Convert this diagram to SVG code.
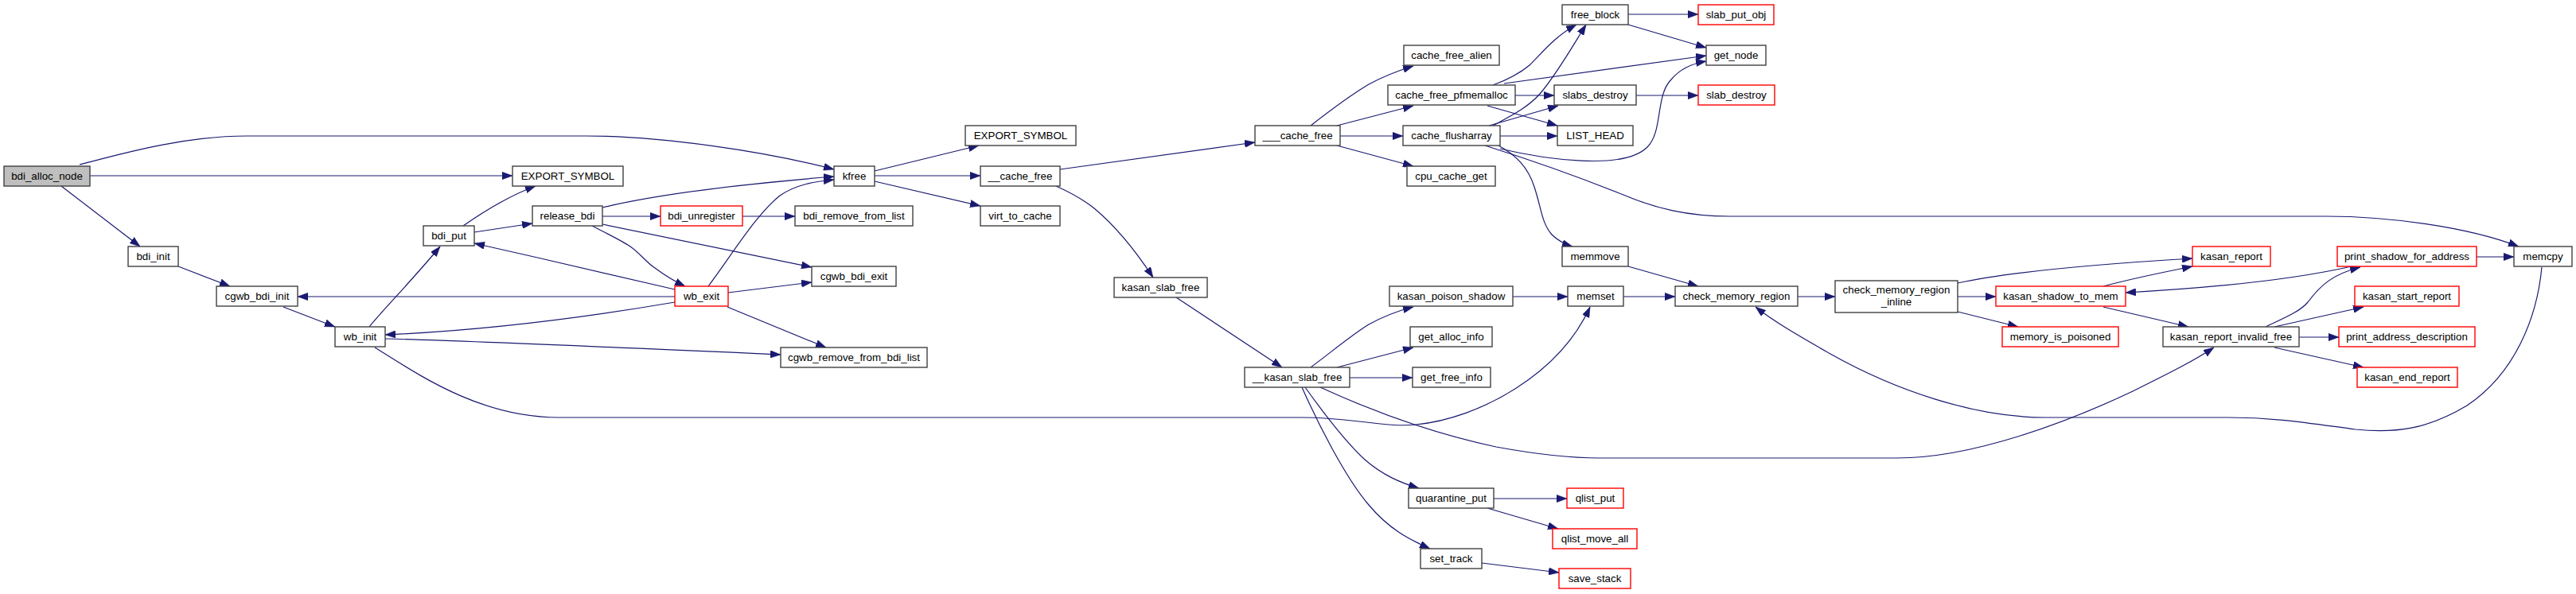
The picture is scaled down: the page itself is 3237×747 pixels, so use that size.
<svg xmlns="http://www.w3.org/2000/svg" width="3237" height="747" viewBox="0 0 3237 747">
<style>
.n rect{fill:#fff;stroke:#404040;stroke-width:1.4}
.n.r rect{stroke:#ff0000}
.n.root rect{fill:#bfbfbf}
text{font-family:"Liberation Sans",Arial,Helvetica,sans-serif;font-size:13.33px;text-anchor:middle;fill:#000}
#edges path{fill:none;stroke:#191970;stroke-width:1.2;marker-end:url(#ah)}
</style>
<defs>
<marker id="ah" markerUnits="userSpaceOnUse" viewBox="0 0 13 9.4" refX="13" refY="4.7" markerWidth="13" markerHeight="9.4" orient="auto">
<path d="M0,0 L13,4.7 L0,9.4 z" fill="#191970" stroke="#191970" stroke-width="0.5"/>
</marker>
</defs>
<rect width="3237" height="747" fill="#fff"/>
<g id="edges">
<path d="M100,207 C150,194 230,171 310,171 L737,171 C830,171 960,190 1048,213"/>
<path d="M113,221 L644,221"/>
<path d="M77,234 L176,310"/>
<path d="M224,335 L289,360"/>
<path d="M356,386 L421,411"/>
<path d="M464,411 C480,391 520,350 553,310"/>
<path d="M471,437 C520,467 600,525 702,525 L1635,525 C1700,525 1740,538 1779,534 C1860,526 1960,470 1998,386"/>
<path d="M582,284 C605,268 640,246 673,234"/>
<path d="M596,292 L669,281"/>
<path d="M757,261 C830,243 950,230 1048,222"/>
<path d="M757,272 L830,272"/>
<path d="M757,282 L1020,336"/>
<path d="M744,284 C765,295 780,302 792,310 C805,319 812,330 823,337 C835,346 848,354 861,360"/>
<path d="M933,272 L999,272"/>
<path d="M890,360 C920,320 950,270 980,246 C1000,232 1025,228 1048,226"/>
<path d="M848,364 C760,343 680,325 596,306"/>
<path d="M915,368 L1020,355"/>
<path d="M848,373 L374,373"/>
<path d="M848,380 C760,395 620,415 484,421"/>
<path d="M484,426 C600,429 800,438 981,446"/>
<path d="M914,386 L1038,437"/>
<path d="M1099,215 L1230,183"/>
<path d="M1099,221 L1232,221"/>
<path d="M1099,228 L1232,259"/>
<path d="M1332,213 L1577,179"/>
<path d="M1327,234 C1345,242 1360,250 1375,262 C1405,287 1430,320 1449,349"/>
<path d="M1478,374 L1611,462"/>
<path d="M1647,158 C1670,140 1700,118 1720,106 C1740,95 1760,88 1776,83"/>
<path d="M1680,158 L1776,133"/>
<path d="M1684,171 L1763,171"/>
<path d="M1680,183 L1776,209"/>
<path d="M1876,107 C1895,100 1910,92 1922,82 C1940,64 1955,45 1981,31"/>
<path d="M1890,105 L2144,70"/>
<path d="M1904,120 L1953,120"/>
<path d="M1869,133 L1957,158"/>
<path d="M1876,158 C1900,145 1920,135 1935,118 C1955,95 1975,60 1993,31"/>
<path d="M1871,158 L1958,133"/>
<path d="M1885,171 L1957,171"/>
<path d="M1885,187 C1940,200 2040,215 2070,185 C2090,165 2080,120 2100,100 C2110,88 2125,80 2144,77"/>
<path d="M1883,183 C1905,195 1920,210 1928,235 C1937,262 1937,280 1950,295 C1958,303 1966,307 1976,310"/>
<path d="M1866,183 C1920,200 1990,225 2040,245 C2080,262 2120,272 2174,272 L2923,272 C3000,272 3100,285 3165,310"/>
<path d="M2046,18 L2134,18"/>
<path d="M2046,31 L2144,60"/>
<path d="M2056,120 L2134,120"/>
<path d="M2046,335 L2134,360"/>
<path d="M2040,373 L2105,373"/>
<path d="M1901,373 L1970,373"/>
<path d="M1647,462 C1670,445 1700,420 1720,408 C1740,397 1760,390 1776,386"/>
<path d="M1680,462 L1776,437"/>
<path d="M1696,475 L1775,475"/>
<path d="M1640,487 C1660,515 1690,555 1715,578 C1738,598 1760,607 1783,614"/>
<path d="M1636,487 C1655,530 1690,600 1720,635 C1745,665 1770,678 1797,690"/>
<path d="M1659,487 C1720,515 1800,545 1880,562 C1940,573 1980,576 2010,576 L2384,576 C2480,576 2600,530 2680,492 C2720,472 2755,455 2782,437"/>
<path d="M1877,627 L1969,627"/>
<path d="M1869,639 L1958,665"/>
<path d="M1862,708 L1959,720"/>
<path d="M2259,373 L2306,373"/>
<path d="M2460,373 L2508,373"/>
<path d="M2460,392 L2536,411"/>
<path d="M2460,356 C2520,343 2620,333 2755,325"/>
<path d="M2643,360 C2680,350 2720,342 2755,335"/>
<path d="M2643,386 L2750,411"/>
<path d="M2847,411 C2870,400 2890,392 2900,380 C2915,360 2930,345 2966,336"/>
<path d="M2955,335 C2880,352 2780,362 2671,368"/>
<path d="M3112,323 L3159,323"/>
<path d="M2858,411 L2970,386"/>
<path d="M2889,424 L2939,424"/>
<path d="M2858,437 L2970,462"/>
<path d="M3194,336 C3188,400 3160,470 3100,510 C3050,540 3010,545 2960,540 C2900,532 2860,525 2800,525 L2570,525 C2480,525 2380,490 2300,445 C2260,422 2230,405 2206,386"/>
</g>
<g id="node-bdi_alloc_node" class="n root"><rect x="5" y="209" width="108" height="25"/><text x="59" y="226">bdi_alloc_node</text></g>
<g id="node-bdi_init" class="n"><rect x="161" y="310" width="63" height="25"/><text x="192.5" y="327">bdi_init</text></g>
<g id="node-cgwb_bdi_init" class="n"><rect x="272" y="360" width="102" height="25"/><text x="323" y="377">cgwb_bdi_init</text></g>
<g id="node-wb_init" class="n"><rect x="421" y="411" width="63" height="25"/><text x="452.5" y="428">wb_init</text></g>
<g id="node-bdi_put" class="n"><rect x="532" y="284" width="64" height="25"/><text x="564" y="301">bdi_put</text></g>
<g id="node-EXPORT_SYMBOL_1" class="n"><rect x="644" y="209" width="139" height="25"/><text x="713.5" y="226">EXPORT_SYMBOL</text></g>
<g id="node-release_bdi" class="n"><rect x="669" y="259" width="88" height="25"/><text x="713" y="276">release_bdi</text></g>
<g id="node-bdi_unregister" class="n r"><rect x="830" y="259" width="103" height="25"/><text x="881.5" y="276">bdi_unregister</text></g>
<g id="node-wb_exit" class="n r"><rect x="848" y="360" width="67" height="25"/><text x="881.5" y="377">wb_exit</text></g>
<g id="node-kfree" class="n"><rect x="1048" y="209" width="51" height="25"/><text x="1073.5" y="226">kfree</text></g>
<g id="node-bdi_remove_from_list" class="n"><rect x="999" y="259" width="148" height="25"/><text x="1073" y="276">bdi_remove_from_list</text></g>
<g id="node-cgwb_bdi_exit" class="n"><rect x="1020" y="335" width="106" height="25"/><text x="1073" y="352">cgwb_bdi_exit</text></g>
<g id="node-cgwb_remove_from_bdi_list" class="n"><rect x="981" y="437" width="184" height="25"/><text x="1073" y="454">cgwb_remove_from_bdi_list</text></g>
<g id="node-EXPORT_SYMBOL_2" class="n"><rect x="1213" y="158" width="139" height="25"/><text x="1282.5" y="175">EXPORT_SYMBOL</text></g>
<g id="node-__cache_free" class="n"><rect x="1232" y="209" width="100" height="25"/><text x="1282" y="226">__cache_free</text></g>
<g id="node-virt_to_cache" class="n"><rect x="1232" y="259" width="100" height="25"/><text x="1282" y="276">virt_to_cache</text></g>
<g id="node-kasan_slab_free" class="n"><rect x="1400" y="349" width="117" height="25"/><text x="1458.5" y="366">kasan_slab_free</text></g>
<g id="node-___cache_free" class="n"><rect x="1577" y="158" width="107" height="25"/><text x="1630.5" y="175">___cache_free</text></g>
<g id="node-__kasan_slab_free" class="n"><rect x="1564" y="462" width="132" height="25"/><text x="1630" y="479">__kasan_slab_free</text></g>
<g id="node-cache_free_alien" class="n"><rect x="1764" y="57" width="120" height="25"/><text x="1824" y="74">cache_free_alien</text></g>
<g id="node-cache_free_pfmemalloc" class="n"><rect x="1744" y="107" width="160" height="25"/><text x="1824" y="124">cache_free_pfmemalloc</text></g>
<g id="node-cache_flusharray" class="n"><rect x="1763" y="158" width="122" height="25"/><text x="1824" y="175">cache_flusharray</text></g>
<g id="node-cpu_cache_get" class="n"><rect x="1768" y="209" width="111" height="25"/><text x="1823.5" y="226">cpu_cache_get</text></g>
<g id="node-kasan_poison_shadow" class="n"><rect x="1746" y="360" width="155" height="25"/><text x="1823.5" y="377">kasan_poison_shadow</text></g>
<g id="node-get_alloc_info" class="n"><rect x="1772" y="411" width="103" height="25"/><text x="1823.5" y="428">get_alloc_info</text></g>
<g id="node-get_free_info" class="n"><rect x="1775" y="462" width="98" height="25"/><text x="1824" y="479">get_free_info</text></g>
<g id="node-quarantine_put" class="n"><rect x="1770" y="614" width="107" height="25"/><text x="1823.5" y="631">quarantine_put</text></g>
<g id="node-set_track" class="n"><rect x="1785" y="690" width="77" height="25"/><text x="1823.5" y="707">set_track</text></g>
<g id="node-free_block" class="n"><rect x="1963" y="6" width="83" height="25"/><text x="2004.5" y="23">free_block</text></g>
<g id="node-slabs_destroy" class="n"><rect x="1953" y="107" width="103" height="25"/><text x="2004.5" y="124">slabs_destroy</text></g>
<g id="node-LIST_HEAD" class="n"><rect x="1957" y="158" width="95" height="25"/><text x="2004.5" y="175">LIST_HEAD</text></g>
<g id="node-memmove" class="n"><rect x="1963" y="310" width="83" height="25"/><text x="2004.5" y="327">memmove</text></g>
<g id="node-memset" class="n"><rect x="1970" y="360" width="70" height="25"/><text x="2005" y="377">memset</text></g>
<g id="node-qlist_put" class="n r"><rect x="1969" y="614" width="71" height="25"/><text x="2004.5" y="631">qlist_put</text></g>
<g id="node-qlist_move_all" class="n r"><rect x="1951" y="665" width="106" height="25"/><text x="2004" y="682">qlist_move_all</text></g>
<g id="node-save_stack" class="n r"><rect x="1959" y="715" width="90" height="25"/><text x="2004" y="732">save_stack</text></g>
<g id="node-slab_put_obj" class="n r"><rect x="2134" y="6" width="95" height="25"/><text x="2181.5" y="23">slab_put_obj</text></g>
<g id="node-get_node" class="n"><rect x="2144" y="57" width="75" height="25"/><text x="2181.5" y="74">get_node</text></g>
<g id="node-slab_destroy" class="n r"><rect x="2134" y="107" width="96" height="25"/><text x="2182" y="124">slab_destroy</text></g>
<g id="node-check_memory_region" class="n"><rect x="2105" y="360" width="154" height="25"/><text x="2182" y="377">check_memory_region</text></g>
<g id="node-check_memory_region_inline" class="n"><rect x="2306" y="353" width="154" height="40"/><text x="2383" y="369">check_memory_region</text><text x="2383" y="384">_inline</text></g>
<g id="node-kasan_shadow_to_mem" class="n r"><rect x="2508" y="360" width="163" height="25"/><text x="2589.5" y="377">kasan_shadow_to_mem</text></g>
<g id="node-memory_is_poisoned" class="n r"><rect x="2516" y="411" width="146" height="25"/><text x="2589" y="428">memory_is_poisoned</text></g>
<g id="node-kasan_report" class="n r"><rect x="2755" y="310" width="98" height="25"/><text x="2804" y="327">kasan_report</text></g>
<g id="node-kasan_report_invalid_free" class="n"><rect x="2718" y="411" width="171" height="25"/><text x="2803.5" y="428">kasan_report_invalid_free</text></g>
<g id="node-print_shadow_for_address" class="n r"><rect x="2937" y="310" width="175" height="25"/><text x="3024.5" y="327">print_shadow_for_address</text></g>
<g id="node-kasan_start_report" class="n r"><rect x="2959" y="360" width="131" height="25"/><text x="3024.5" y="377">kasan_start_report</text></g>
<g id="node-print_address_description" class="n r"><rect x="2939" y="411" width="171" height="25"/><text x="3024.5" y="428">print_address_description</text></g>
<g id="node-kasan_end_report" class="n r"><rect x="2962" y="462" width="126" height="25"/><text x="3025" y="479">kasan_end_report</text></g>
<g id="node-memcpy" class="n"><rect x="3159" y="310" width="73" height="25"/><text x="3195.5" y="327">memcpy</text></g>
</svg>
